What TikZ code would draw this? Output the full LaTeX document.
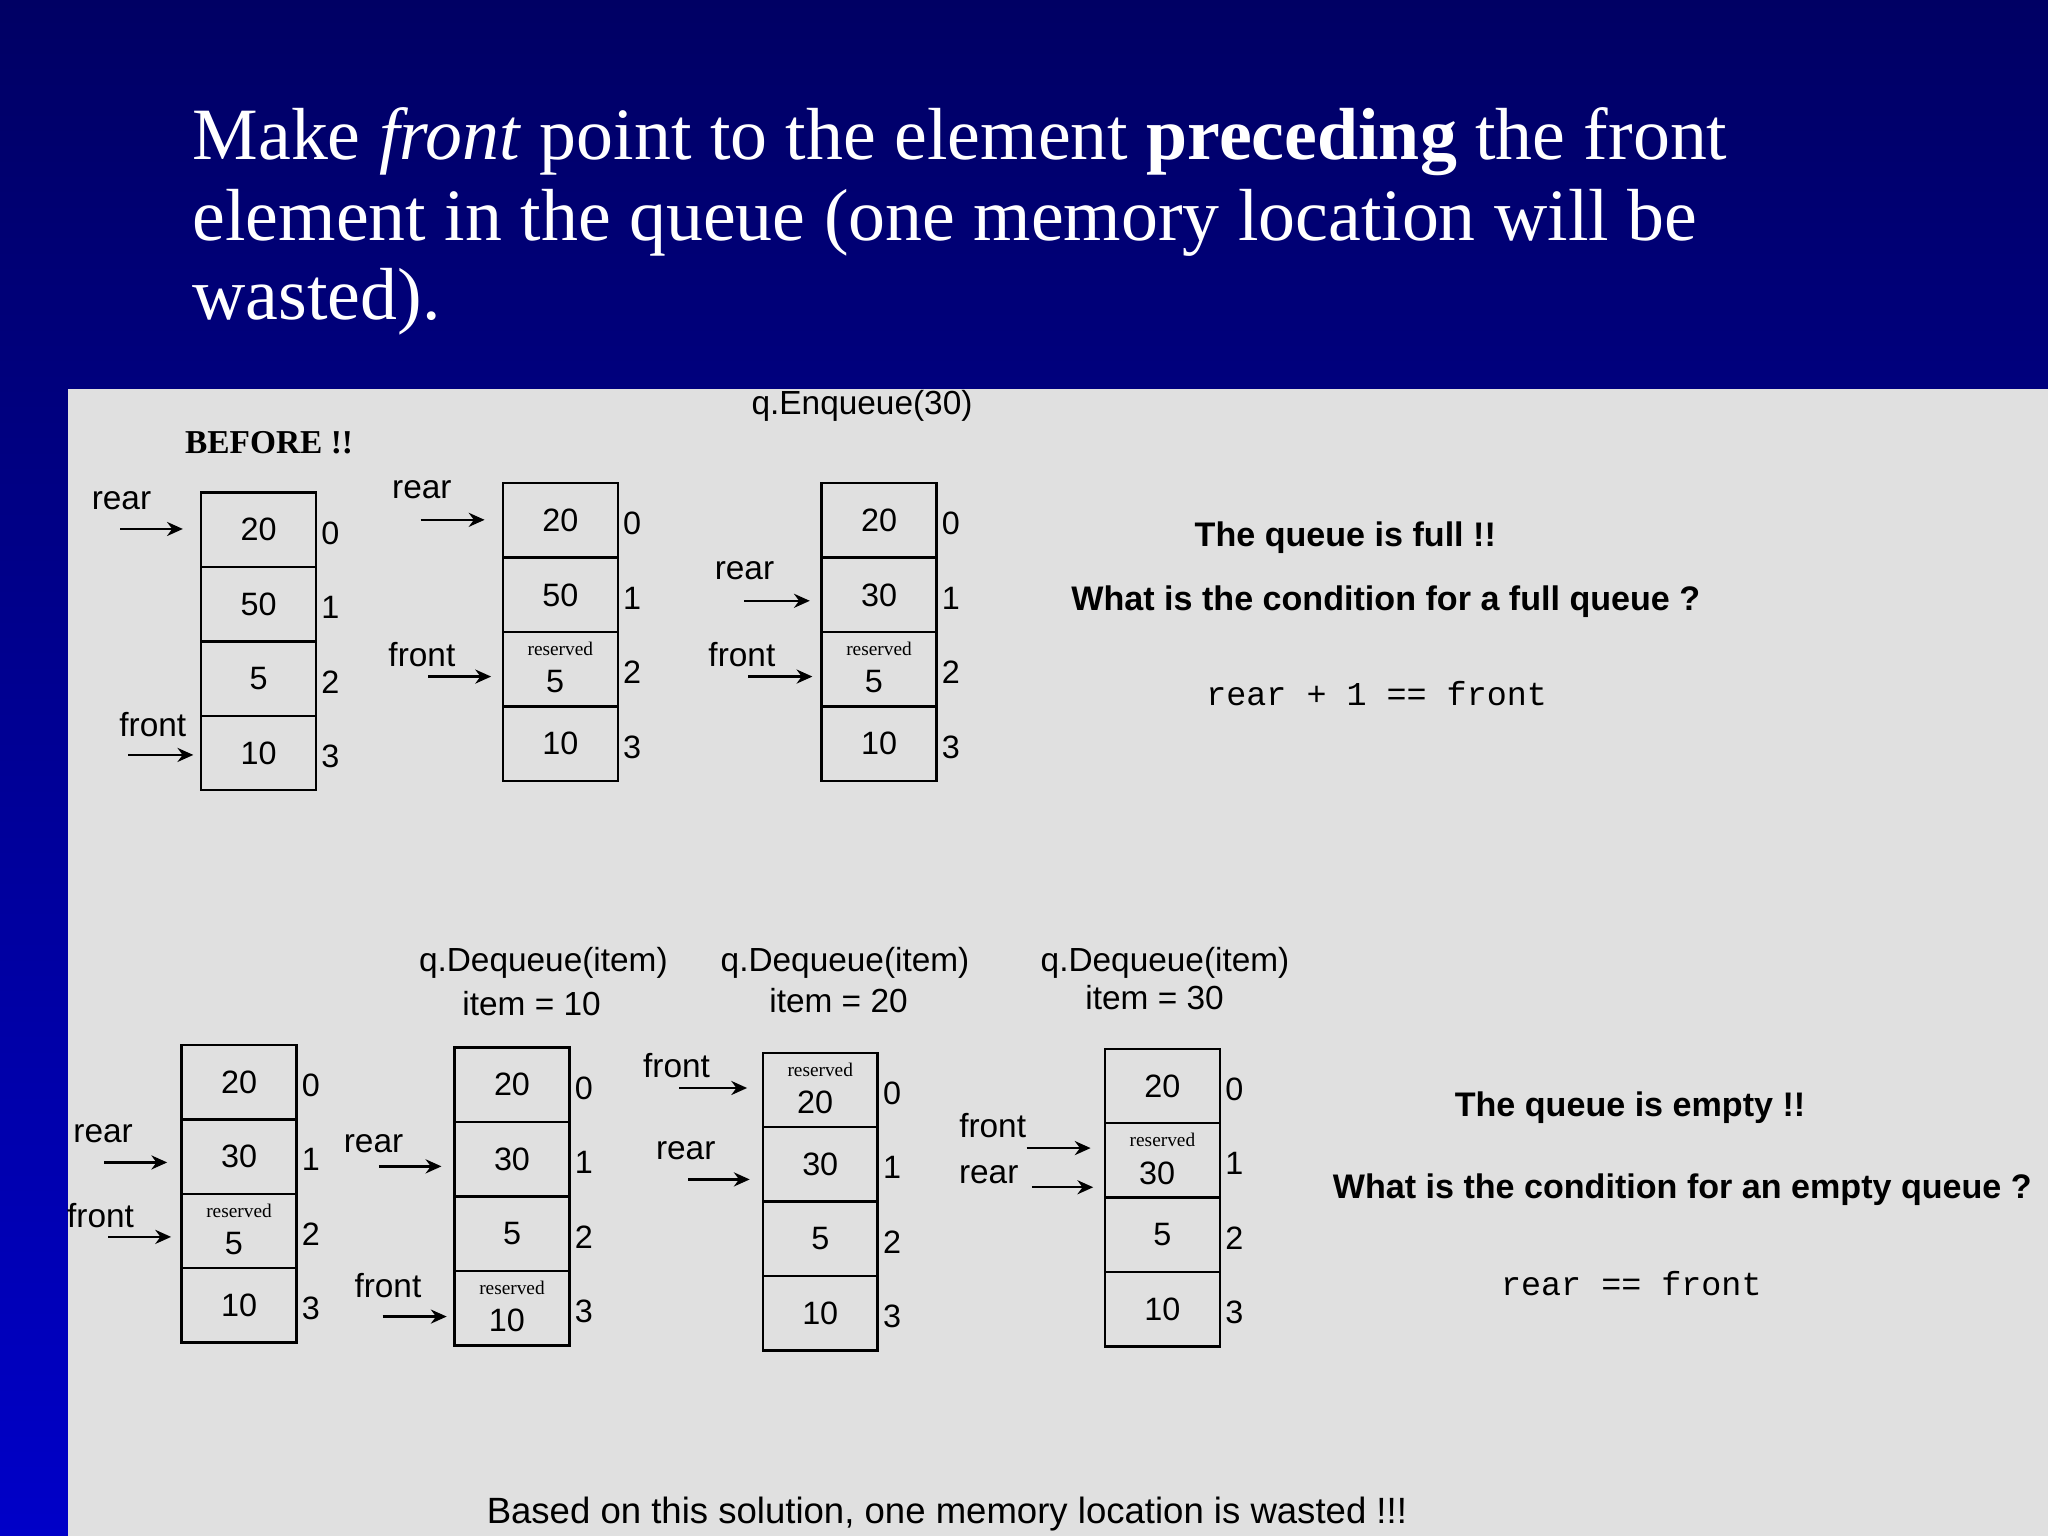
\documentclass[tikz,border=0pt]{standalone}
\usepackage{fontspec}
\setmainfont{Liberation Serif}
\newfontfamily\sansf{Liberation Sans}
\newfontfamily\monof{Liberation Mono}
\usetikzlibrary{arrows.meta}
\definecolor{panel}{HTML}{E0E0E0}
\tikzset{
 lbl/.style={font=\sansf\fontsize{9.5}{11}\selectfont, inner sep=0pt},
 num/.style={font=\sansf\fontsize{9.2}{11}\selectfont, inner sep=0pt},
 res/.style={font=\fontsize{5.5}{6}\selectfont, inner sep=0pt},
 cellbox/.style={draw=black, line width=0.7pt},
 ptr/.style={-{Stealth[length=4.5pt,width=4pt]}, line width=0.7pt},
 bold/.style={font=\sansf\bfseries\fontsize{9.7}{11}\selectfont, inner sep=0pt},
 mono/.style={font=\monof\fontsize{9.5}{11}\selectfont, inner sep=0pt},
 title/.style={font=\fontsize{21}{22}\selectfont, text=white, anchor=base west, inner sep=0pt}
}
\newcommand{\qcell}[4]{%
  \draw[cellbox] (#1,#2) rectangle ++(88,57);
  \node[num] at (#1+44,#2+28.5) {#3};
  \node[num] at (#1+99,#2+31) {#4};
}
\newcommand{\qres}[4]{%
  \draw[cellbox] (#1,#2) rectangle ++(88,57);
  \node[res] at (#1+44,#2+13) {reserved};
  \node[num] at (#1+40,#2+38) {#3};
  \node[num] at (#1+99,#2+31) {#4};
}
\begin{document}
\begin{tikzpicture}[x=0.013061cm,y=-0.013061cm]
\shade[top color={rgb,255:red,0;green,0;blue,100}, bottom color={rgb,255:red,0;green,0;blue,200}] (0,0) rectangle (1568,1176);
\useasboundingbox (0,0) rectangle (1568,1176);
\fill[panel] (52,298) rectangle (1568,1176);
\node[title] (t1) at (147,122) {Make \textit{front} point to the element \textbf{preceding} the front};
\node[title] (t2) at (147,184) {element in the queue (one memory location will be};
\node[title] (t3) at (147,245) {wasted).};

\node[font=\bfseries\fontsize{9.5}{11}\selectfont, inner sep=0pt] (before) at (206,339) {BEFORE !!};
\node[lbl] (enq) at (660,311) {q.Enqueue(30)};

\qcell{154}{377}{20}{0}\qcell{154}{434}{50}{1}\qcell{154}{491}{5}{2}\qcell{154}{548}{10}{3}
\node[lbl] (r1) at (93,383) {rear}; \draw[ptr] (92,405) -- (140,405);
\node[lbl] (f1) at (117,555) {front}; \draw[ptr] (98,578) -- (148,578);
\qcell{385}{370}{20}{0}\qcell{385}{427}{50}{1}\qres{385}{484}{5}{2}\qcell{385}{541}{10}{3}
\node[lbl] (r2) at (323,375) {rear}; \draw[ptr] (322,398) -- (371,398);
\node[lbl] (f2) at (323,501) {front}; \draw[ptr] (328,518) -- (376,518);
\qcell{629}{370}{20}{0}\qcell{629}{427}{30}{1}\qres{629}{484}{5}{2}\qcell{629}{541}{10}{3}
\node[lbl] (r3) at (570,437) {rear}; \draw[ptr] (570,460) -- (620,460);
\node[lbl] (f3) at (568,501) {front}; \draw[ptr] (573,518) -- (622,518);

\node[bold] (full) at (1030,412) {The queue is full !!};
\node[bold] (fullq) at (1061,461) {What is the condition for a full queue ?};
\node[mono] (fullc) at (1054,531) {rear + 1 == front};

\node[lbl] (d1) at (416,737) {q.Dequeue(item)}; \node[lbl] (i1) at (407,768) {item = 10};
\node[lbl] (d2) at (647,737) {q.Dequeue(item)}; \node[lbl] (i2) at (642,766) {item = 20};
\node[lbl] (d3) at (892,737) {q.Dequeue(item)}; \node[lbl] (i3) at (884,764) {item = 30};

\qcell{139}{800}{20}{0}\qcell{139}{857}{30}{1}\qres{139}{914}{5}{2}\qcell{139}{971}{10}{3}
\node[lbl] (r4) at (79,868) {rear}; \draw[ptr] (80,890) -- (128,890);
\node[lbl] (f4) at (77,931) {front}; \draw[ptr] (83,947) -- (131,947);
\qcell{348}{802}{20}{0}\qcell{348}{859}{30}{1}\qcell{348}{916}{5}{2}\qres{348}{973}{10}{3}
\node[lbl] (r5) at (286,876) {rear}; \draw[ptr] (290,893) -- (338,893);
\node[lbl] (f5) at (297,984) {front}; \draw[ptr] (293,1008) -- (342,1008);
\qres{584}{806}{20}{0}\qcell{584}{863}{30}{1}\qcell{584}{920}{5}{2}\qcell{584}{977}{10}{3}
\node[lbl] (f6) at (518,816) {front}; \draw[ptr] (520,833) -- (572,833);
\node[lbl] (r6) at (525,881) {rear}; \draw[ptr] (527,903) -- (574,903);
\qcell{846}{803}{20}{0}\qres{846}{860}{30}{1}\qcell{846}{917}{5}{2}\qcell{846}{974}{10}{3}
\node[lbl] (f7) at (760,862) {front}; \draw[ptr] (786,879) -- (835,879);
\node[lbl] (r7) at (757,899) {rear}; \draw[ptr] (790,909) -- (837,909);

\node[bold] (empty) at (1248,848) {The queue is empty !!};
\node[bold] (emptyq) at (1288,911) {What is the condition for an empty queue ?};
\node[mono] (emptyc) at (1249,983) {rear == front};

\node[font=\sansf\fontsize{10.4}{12}\selectfont, inner sep=0pt] (bottom) at (725,1159) {Based on this solution, one memory location is wasted !!!};
\end{tikzpicture}
\end{document}
